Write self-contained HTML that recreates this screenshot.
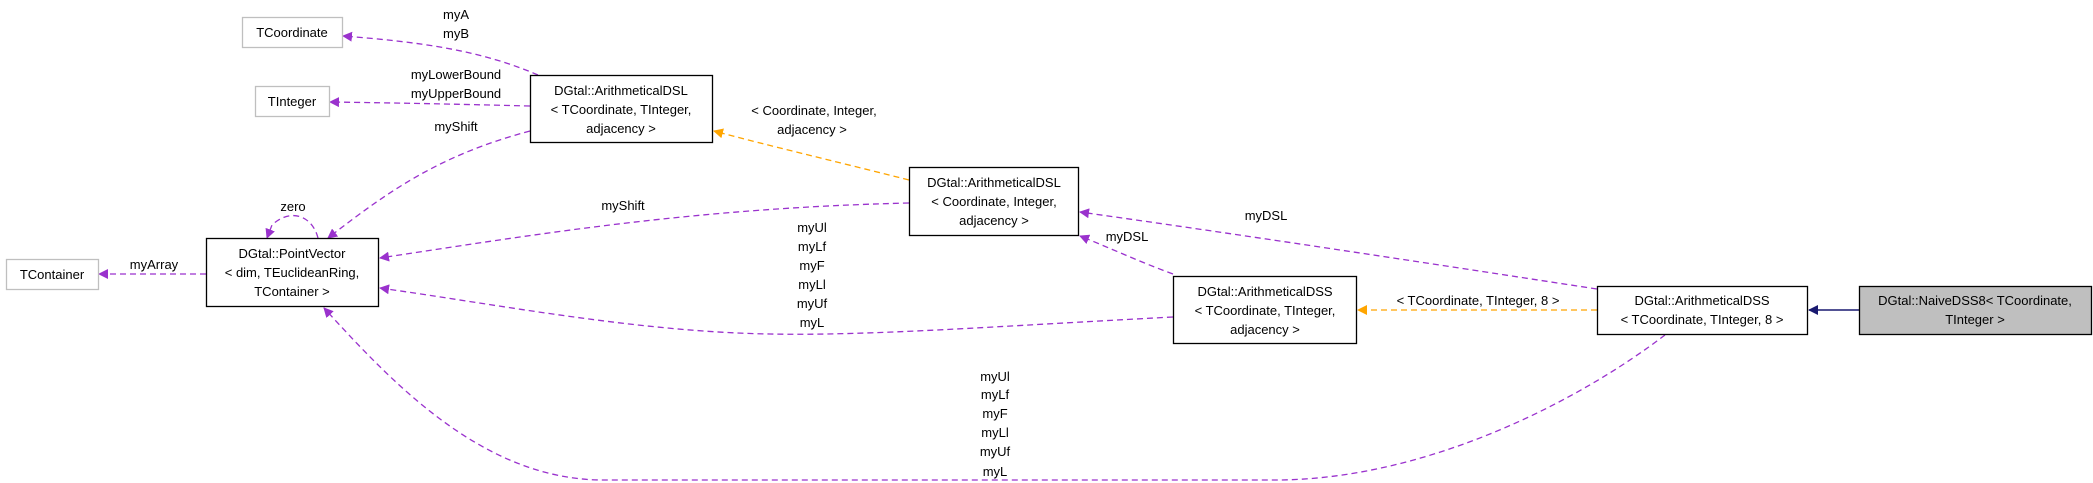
<!DOCTYPE html>
<html><head><meta charset="utf-8"><style>
html,body{margin:0;padding:0;background:#fff;}
svg{display:block;}
text{font-family:"Liberation Sans",sans-serif;font-size:13px;fill:#000;}
</style></head><body>
<svg width="2093" height="483" viewBox="0 0 2093 483" xmlns="http://www.w3.org/2000/svg">
<defs>
<marker id="p" markerWidth="10" markerHeight="10" refX="9" refY="5" orient="auto" markerUnits="userSpaceOnUse"><path d="M0,0 L10,5 L0,10 z" fill="#9a32cd"/></marker>
<marker id="o" markerWidth="10" markerHeight="10" refX="9" refY="5" orient="auto" markerUnits="userSpaceOnUse"><path d="M0,0 L10,5 L0,10 z" fill="#ffa500"/></marker>
<marker id="n" markerWidth="10" markerHeight="10" refX="9" refY="5" orient="auto" markerUnits="userSpaceOnUse"><path d="M0,0 L10,5 L0,10 z" fill="#191970"/></marker>
</defs>
<g fill="none" stroke-width="1.3" stroke-dasharray="6,4">
<path d="M538,75 C480,50 420,42 343,36" stroke="#9a32cd" marker-end="url(#p)"/>
<path d="M530,106 C450,104 400,103 330,102" stroke="#9a32cd" marker-end="url(#p)"/>
<path d="M530,131 C440,155 390,190 328,238" stroke="#9a32cd" marker-end="url(#p)"/>
<path d="M318,238 C312,215 290,208 272,225 L267,238" stroke="#9a32cd" marker-end="url(#p)"/>
<path d="M206,274 L99,274" stroke="#9a32cd" marker-end="url(#p)"/>
<path d="M909,180 C830,160 770,146 714,131" stroke="#ffa500" marker-end="url(#o)"/>
<path d="M909,203 C700,208 550,232 380,258" stroke="#9a32cd" marker-end="url(#p)"/>
<path d="M1173,317 C1000,326 870,336 770,334 C640,332 500,305 380,288" stroke="#9a32cd" marker-end="url(#p)"/>
<path d="M1173,274 C1140,262 1110,248 1080,236" stroke="#9a32cd" marker-end="url(#p)"/>
<path d="M1597,310 L1358,310" stroke="#ffa500" marker-end="url(#o)"/>
<path d="M1597,289 C1420,262 1250,236 1080,212" stroke="#9a32cd" marker-end="url(#p)"/>
<path d="M1665,335 C1580,400 1430,478 1280,480 L600,480 C480,478 390,380 324,308" stroke="#9a32cd" marker-end="url(#p)"/>
</g>
<path d="M1859,310 L1809,310" stroke="#191970" stroke-width="1.5" fill="none" marker-end="url(#n)"/>
<g stroke-width="1.3">
<rect x="242.5" y="17.5" width="100" height="30" fill="#fff" stroke="#bfbfbf"/>
<rect x="255.5" y="86.5" width="74" height="30" fill="#fff" stroke="#bfbfbf"/>
<rect x="6.5" y="259.5" width="92" height="30" fill="#fff" stroke="#bfbfbf"/>
<rect x="530.5" y="75.5" width="182" height="67" fill="#fff" stroke="#000"/>
<rect x="909.5" y="167.5" width="169" height="68" fill="#fff" stroke="#000"/>
<rect x="206.5" y="238.5" width="172" height="68" fill="#fff" stroke="#000"/>
<rect x="1173.5" y="276.5" width="183" height="67" fill="#fff" stroke="#000"/>
<rect x="1597.5" y="286.5" width="210" height="48" fill="#fff" stroke="#000"/>
<rect x="1859.5" y="286.5" width="232" height="48" fill="#bfbfbf" stroke="#000"/>
</g>
<g text-anchor="middle">
<text x="292" y="37">TCoordinate</text>
<text x="292" y="106">TInteger</text>
<text x="52" y="279">TContainer</text>
<text x="621" y="95">DGtal::ArithmeticalDSL</text>
<text x="621" y="114">&lt; TCoordinate, TInteger,</text>
<text x="621" y="133">adjacency &gt;</text>
<text x="994" y="187">DGtal::ArithmeticalDSL</text>
<text x="994" y="206">&lt; Coordinate, Integer,</text>
<text x="994" y="225">adjacency &gt;</text>
<text x="292" y="258">DGtal::PointVector</text>
<text x="292" y="277">&lt; dim, TEuclideanRing,</text>
<text x="292" y="296">TContainer &gt;</text>
<text x="1265" y="296">DGtal::ArithmeticalDSS</text>
<text x="1265" y="315">&lt; TCoordinate, TInteger,</text>
<text x="1265" y="334">adjacency &gt;</text>
<text x="1702" y="305">DGtal::ArithmeticalDSS</text>
<text x="1702" y="324">&lt; TCoordinate, TInteger, 8 &gt;</text>
<text x="1975" y="305">DGtal::NaiveDSS8&lt; TCoordinate,</text>
<text x="1975" y="324">TInteger &gt;</text>
<text x="456" y="19">myA</text>
<text x="456" y="38">myB</text>
<text x="456" y="79">myLowerBound</text>
<text x="456" y="98">myUpperBound</text>
<text x="456" y="131">myShift</text>
<text x="293" y="211">zero</text>
<text x="154" y="269">myArray</text>
<text x="623" y="210">myShift</text>
<text x="812" y="232">myUl</text>
<text x="812" y="251">myLf</text>
<text x="812" y="270">myF</text>
<text x="812" y="289">myLl</text>
<text x="812" y="308">myUf</text>
<text x="812" y="327">myL</text>
<text x="814" y="115">&lt; Coordinate, Integer,</text>
<text x="812" y="134">adjacency &gt;</text>
<text x="995" y="381">myUl</text>
<text x="995" y="399">myLf</text>
<text x="995" y="418">myF</text>
<text x="995" y="437">myLl</text>
<text x="995" y="456">myUf</text>
<text x="995" y="476">myL</text>
<text x="1266" y="220">myDSL</text>
<text x="1127" y="241">myDSL</text>
<text x="1478" y="305">&lt; TCoordinate, TInteger, 8 &gt;</text>
</g>
</svg>
</body></html>
